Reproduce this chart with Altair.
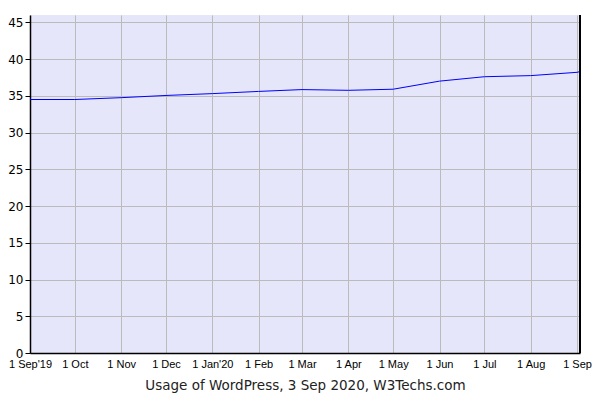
import altair as alt
import pandas as pd

dates = ["2019-09-01", "2019-10-01", "2019-11-01", "2019-12-01", "2020-01-01",
         "2020-02-01", "2020-03-01", "2020-04-01", "2020-05-01", "2020-06-01",
         "2020-07-01", "2020-08-01", "2020-09-01", "2020-09-03"]
usage = [34.5, 34.5, 34.75, 35.05, 35.3, 35.6, 35.85, 35.75, 35.9, 37.0,
         37.6, 37.75, 38.2, 38.3]
tick_dates = dates[:13]

df = pd.DataFrame({"date": dates, "usage": usage})

label_expr = ("utcyear(datum.value) == 2019 && utcmonth(datum.value) == 8 ? \"1 Sep'19\" : "
              "utcmonth(datum.value) == 0 ? \"1 Jan'20\" : '1 ' + utcFormat(datum.value, '%b')")

W, H = 550, 338

line = alt.Chart(df).mark_line(color="#0000ff", strokeWidth=1).encode(
    x=alt.X("date:T",
            scale=alt.Scale(domain=["2019-09-01", "2020-09-03"], type="utc", nice=False),
            axis=alt.Axis(values=tick_dates, labelExpr=label_expr, ticks=False,
                          grid=True, gridColor="#bbbbbb", gridWidth=1,
                          domainColor="#000000", domainWidth=1.5,
                          labelFont="Liberation Sans", labelFontSize=11, labelColor="#000",
                          labelPadding=5, labelFlush=False,
                          title="Usage of WordPress, 3 Sep 2020, W3Techs.com",
                          titleFont="DejaVu Sans", titleFontSize=13.5, titleFontWeight="normal",
                          titleColor="#222", titlePadding=9)),
    y=alt.Y("usage:Q",
            scale=alt.Scale(domain=[0, 46], nice=False),
            axis=alt.Axis(values=list(range(0, 50, 5)), grid=True, gridColor="#bbbbbb",
                          domainColor="#000000", domainWidth=1.5, tickColor="#000",
                          tickSize=5, labelFont="DejaVu Sans", labelFontSize=12,
                          labelColor="#000", labelPadding=2, title=None)),
)

right = alt.Chart(df).mark_rule(color="#000", strokeWidth=1.5).encode(
    x=alt.value(W), y=alt.value(0), y2=alt.value(H)
)

chart = alt.layer(line, right).properties(
    width=W, height=H,
    autosize=alt.AutoSizeParams(type="none"),
    padding={"left": 22, "top": 7, "right": 12, "bottom": 45},
).configure_view(fill="#e6e6fa", stroke=None)

chart.save("out.html", embed_options={"renderer": "svg", "actions": False})
